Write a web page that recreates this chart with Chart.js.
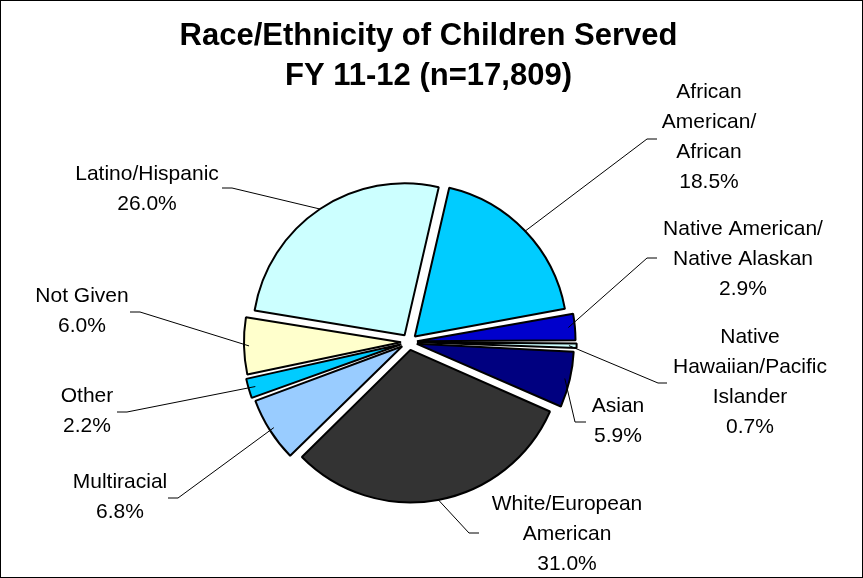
<!DOCTYPE html>
<html>
<head>
<meta charset="utf-8">
<script src="https://cdn.jsdelivr.net/npm/chart.js@4"></script>
<style>
  body { margin: 0; background: #fff; }
  #wrap { width: 861px; height: 576px; border: 1px solid #000; background: #fff; }
</style>
</head>
<body>
<div id="wrap"><canvas id="race-chart" width="861" height="576"></canvas></div>
<script>
var categories = [
  ["African", "American/", "African"],
  ["Native American/", "Native Alaskan"],
  ["Native", "Hawaiian/Pacific", "Islander"],
  ["Asian"],
  ["White/European", "American"],
  ["Multiracial"],
  ["Other"],
  ["Not Given"],
  ["Latino/Hispanic"],
];
var percents = [18.5, 2.9, 0.7, 5.9, 31.0, 6.8, 2.2, 6.0, 26.0];
var sliceColors = [
  "#00ccff",
  "#0000cc",
  "#ccffff",
  "#000080",
  "#333333",
  "#99ccff",
  "#00ccff",
  "#ffffcc",
  "#ccffff",
];
var titleLines = ["Race/Ethnicity of Children Served", "FY 11-12 (n=17,809)"];

// where each label sits, relative to the pie centre (text centre / first baseline,
// leader elbow, and the short horizontal tail)
var labelSpots = [
  { text: [300, -244], elbow: [238, -203], tail: 10 },
  { text: [334, -107], elbow: [238, -84], tail: 10 },
  { text: [341, 1], elbow: [249, 41], tail: 9 },
  { text: [209, 70], elbow: [166, 80], tail: 11 },
  { text: [158, 168], elbow: [60, 191], tail: 10 },
  { text: [-289, 146], elbow: [-231, 156], tail: -10 },
  { text: [-322, 60], elbow: [-282, 70], tail: -10 },
  { text: [-327, -40], elbow: [-269, -30], tail: -10 },
  { text: [-262, -162], elbow: [-177, -154], tail: -10 },
];

var sliceLabels = {
  id: "sliceLabels",
  afterDatasetsDraw: function (chart) {
    var ctx = chart.ctx;
    var meta = chart.getDatasetMeta(0);
    ctx.save();
    ctx.strokeStyle = "#000";
    ctx.lineWidth = 1;
    ctx.fillStyle = "#000";
    ctx.font = "21px 'Liberation Sans', Arial, sans-serif";
    ctx.textAlign = "center";
    ctx.textBaseline = "alphabetic";
    meta.data.forEach(function (arc, i) {
      var spot = labelSpots[i];
      var mid = (arc.startAngle + arc.endAngle) / 2;
      // chart.js draws the explode offset at a quarter of the option value
      var reach = arc.outerRadius + arc.options.offset / 4;
      var sx = arc.x + Math.cos(mid) * reach;
      var sy = arc.y + Math.sin(mid) * reach;
      var ex = arc.x + spot.elbow[0];
      var ey = arc.y + spot.elbow[1];
      ctx.beginPath();
      ctx.moveTo(sx, sy);
      ctx.lineTo(ex, ey);
      ctx.lineTo(ex + spot.tail, ey);
      ctx.stroke();

      var lines = categories[i].concat([percents[i].toFixed(1) + "%"]);
      lines.forEach(function (txt, k) {
        ctx.fillText(txt, arc.x + spot.text[0], arc.y + spot.text[1] + k * 30);
      });
    });

    ctx.font = "bold 31px 'Liberation Sans', Arial, sans-serif";
    titleLines.forEach(function (txt, k) {
      ctx.fillText(txt, chart.width / 2 - 3, 44 + k * 40);
    });
    ctx.restore();
  },
};

var ctx = document.getElementById("race-chart").getContext("2d");
var raceChart = new Chart(ctx, {
  type: "pie",
  data: {
    labels: categories,
    datasets: [
      {
        data: percents,
        backgroundColor: sliceColors,
        borderColor: "#000",
        borderWidth: 2,
        offset: 32,
      },
    ],
  },
  options: {
    responsive: false,
    animation: false,
    rotation: 13,
    radius: 152,
    layout: { padding: { left: 0, right: 45, top: 106, bottom: 0 } },
    plugins: {
      legend: { display: false },
      tooltip: { enabled: false },
      title: { display: false },
    },
  },
  plugins: [sliceLabels],
});
</script>
</body>
</html>
